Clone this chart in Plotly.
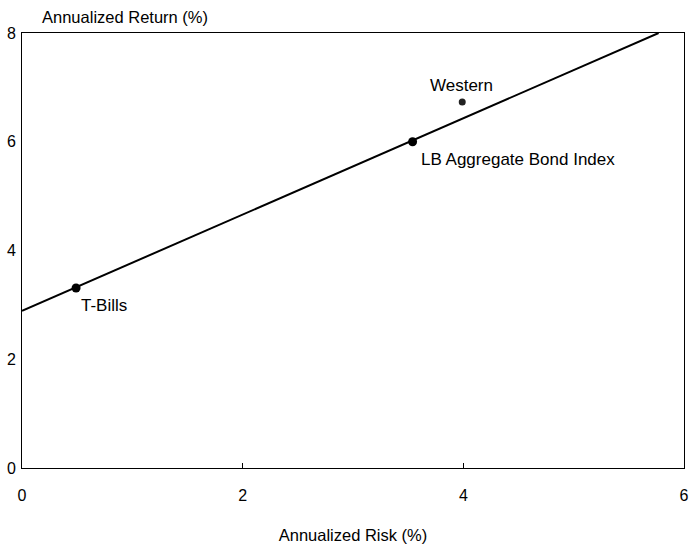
import plotly.graph_objects as go

# Data
point_names = ["T-Bills", "LB Aggregate Bond Index", "Western"]
risk = [0.49, 3.54, 3.99]
ret = [3.31, 6.00, 6.73]

line_risk = [0.0, 5.77]
line_ret = [2.89, 8.0]

x_ticks = [0, 2, 4, 6]
y_ticks = [0, 2, 4, 6, 8]

FONT = "Liberation Sans Narrow, Arial Narrow, Liberation Sans, Arial, sans-serif"

fig = go.Figure()
fig.add_trace(go.Scatter(x=line_risk, y=line_ret, mode="lines",
                         line=dict(color="black", width=2), showlegend=False,
                         hoverinfo="skip", cliponaxis=False))
fig.add_trace(go.Scatter(x=risk[:2], y=ret[:2], mode="markers",
                         marker=dict(color="black", size=9), showlegend=False))
fig.add_trace(go.Scatter(x=risk[2:], y=ret[2:], mode="markers",
                         marker=dict(color="#222222", size=7), showlegend=False))

# Labels
lab_font = dict(size=17)
fig.add_annotation(x=risk[0], y=ret[0], text=point_names[0], showarrow=False,
                   xanchor="left", yanchor="middle", xshift=3, yshift=-17, font=lab_font)
fig.add_annotation(x=risk[1], y=ret[1], text=point_names[1], showarrow=False,
                   xanchor="left", yanchor="middle", xshift=6, yshift=-18, font=lab_font)
fig.add_annotation(x=risk[2], y=ret[2], text=point_names[2], showarrow=False,
                   xanchor="center", yanchor="middle", xshift=-1, yshift=17, font=lab_font)

fig.add_annotation(xref="paper", yref="paper", x=0, y=1, text="Annualized Return (%)",
                   showarrow=False, xanchor="left", yanchor="bottom", yshift=5, xshift=18,
                   font=dict(size=16.5))

fig.update_layout(
    width=690, height=544,
    margin=dict(l=22, r=6, t=33, b=76),
    paper_bgcolor="white", plot_bgcolor="white",
    font=dict(family=FONT, size=16, color="black"),
    xaxis=dict(range=[0, 6], tickvals=x_ticks, ticks="inside", ticklen=5,
               tickcolor="black", showgrid=False, zeroline=False,
               showline=True, linecolor="black", linewidth=1, mirror=True,
               ticklabelstandoff=13, automargin=False, ticklabeloverflow="allow",
               title=dict(text="Annualized Risk (%)", standoff=26,
                          font=dict(size=16.5))),
    yaxis=dict(range=[0, 8], tickvals=y_ticks, ticks="", showgrid=False,
               zeroline=False, showline=True, linecolor="black", linewidth=1,
               mirror=True, ticklabelstandoff=2, automargin=False,
               ticklabeloverflow="allow"),
)

fig.write_html(
    "out.html",
    config={"displayModeBar": False},
    post_script="document.body.style.margin='0';document.body.style.overflow='hidden';",
)
